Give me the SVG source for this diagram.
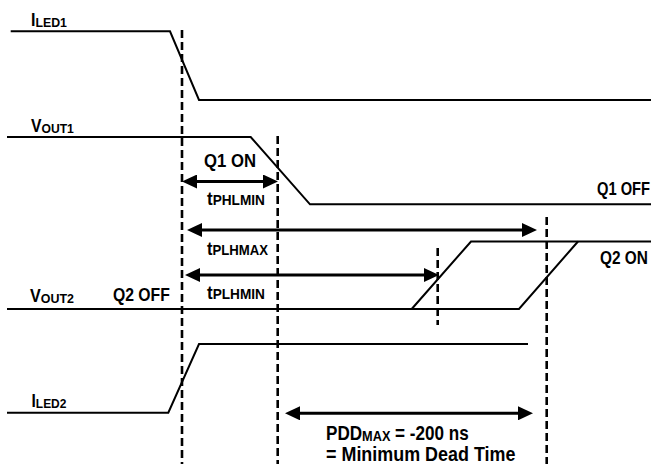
<svg xmlns="http://www.w3.org/2000/svg" width="651" height="464" viewBox="0 0 651 464">
<defs>
<style>
.sig{fill:none;stroke:#000;stroke-width:2;stroke-linejoin:miter}
.dash{fill:none;stroke:#000;stroke-width:2.6;stroke-dasharray:8,4}
.arr{fill:none;stroke:#000;stroke-width:3;marker-start:url(#ah);marker-end:url(#ah)}
text{font-family:"Liberation Sans",Arial,sans-serif;font-weight:bold;fill:#000}
.lbl{font-size:17.5px}
.sub{font-size:13.5px}
.tsub{font-size:14px}
.big{font-size:19.5px}
.bigsub{font-size:14.5px}
</style>
<marker id="ah" viewBox="0 0 15 14" markerUnits="userSpaceOnUse" markerWidth="15" markerHeight="14" refX="5" refY="7" orient="auto-start-reverse">
<path d="M0,0 L15,7 L0,14 z" fill="#000"/>
</marker>
</defs>
<rect width="651" height="464" fill="#fff"/>

<g id="iled1">
<path class="sig" d="M10.7,31.3 H170 L199,100 H651"/>
<text class="lbl" transform="translate(31,25.5) scale(0.914,1)">I<tspan class="sub" dy="1">LED1</tspan></text>
</g>

<g id="vout1">
<path class="sig" d="M7,137 H250.7 L310,204.3 H651"/>
<text class="lbl" transform="translate(31,132) scale(0.9,1)">V<tspan class="sub" dy="1">OUT1</tspan></text>
<text class="lbl" transform="translate(204,167) scale(0.955,1)">Q1 ON</text>
<text class="lbl" transform="translate(597,195) scale(0.84,1)">Q1 OFF</text>
</g>

<g id="vout2">
<path class="sig" d="M7,309 H519 L578,241.5"/>
<path class="sig" d="M411.7,309 L471,241.5 H651"/>
<text class="lbl" transform="translate(30,302) scale(0.922,1)">V<tspan class="sub" dy="1">OUT2</tspan></text>
<text class="lbl" transform="translate(113,301) scale(0.9,1)">Q2 OFF</text>
<text class="lbl" transform="translate(600,263.5) scale(0.88,1)">Q2 ON</text>
</g>

<g id="iled2">
<path class="sig" d="M7,412.7 H168.3 L199,344 H528"/>
<text class="lbl" transform="translate(31.5,407) scale(0.888,1)">I<tspan class="sub" dy="1">LED2</tspan></text>
</g>

<g id="connectors">
<line class="dash" x1="182" y1="30" x2="182" y2="464"/>
<line class="dash" x1="277.7" y1="136" x2="277.7" y2="464"/>
<line class="dash" x1="437.7" y1="248" x2="437.7" y2="325"/>
<line class="dash" x1="546.7" y1="217" x2="546.7" y2="464"/>
<line class="arr" x1="192" y1="181.5" x2="268" y2="181.5"/>
<line class="arr" x1="197" y1="230" x2="527" y2="230"/>
<line class="arr" x1="195" y1="275" x2="429" y2="275"/>
<line class="arr" x1="295" y1="413.3" x2="523" y2="413.3"/>
</g>

<g id="labels">
<text class="lbl" transform="translate(207,205) scale(0.975,1)">t<tspan class="tsub">PHLMIN</tspan></text>
<text class="lbl" transform="translate(207,255) scale(0.94,1)">t<tspan class="tsub">PLHMAX</tspan></text>
<text class="lbl" transform="translate(207,298.5) scale(0.975,1)">t<tspan class="tsub">PLHMIN</tspan></text>
<text class="big" transform="translate(326,440) scale(0.878,1)">PDD<tspan class="bigsub" dy="1">MAX</tspan><tspan dy="-1"> = -200 ns</tspan></text>
<text class="big" transform="translate(326,460.5) scale(0.92,1)">= Minimum Dead Time</text>
</g>
</svg>
